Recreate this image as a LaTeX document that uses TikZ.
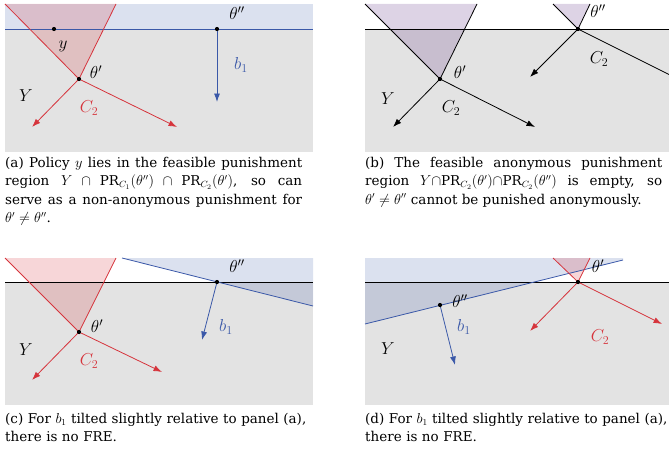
\documentclass[tikz,border=0pt]{standalone}
\usepackage{amsmath}
\usepackage{fontspec}
\setmainfont{DejaVu Serif}
\usetikzlibrary{arrows.meta}
\definecolor{panelgray}{RGB}{227,227,227}
\definecolor{redanno}{RGB}{214,52,60}
\definecolor{blueanno}{RGB}{58,88,168}
\definecolor{violetanno}{RGB}{120,80,150}
\tikzset{
  ray/.style={-{Latex[length=8.5pt,width=6pt]}, line width=0.8pt},
  edgeline/.style={line width=0.8pt},
  dot/.style={circle, fill=black, inner sep=0pt, minimum size=4.2pt},
  lbl/.style={font=\fontsize{18.5}{20}\selectfont},
  captext/.style={anchor=base west, inner sep=0pt, text width=297pt, align=justify,
    font=\fontsize{13.5}{18.5}\selectfont},
  captextleft/.style={captext, text width=320pt, align=left},
}

\begin{document}
\begin{tikzpicture}[x=1pt,y=-1pt]
\useasboundingbox (0,0) rectangle (669,452);
% panel (a)
\fill[panelgray] (5,29) rectangle (313,152);
\fill[blueanno, opacity=0.18] (5,4) rectangle (313,29);
\fill[redanno, opacity=0.2] (5,4) -- (79,79) -- (116,4) -- cycle;
\coordinate (a-y) at (54,29);
\coordinate (a-t1) at (79,79);
\coordinate (a-t2) at (217,29);
\coordinate (a-l) at (5,29);
\coordinate (a-r) at (313,29);
\coordinate (a-cl) at (5,4);
\coordinate (a-cr) at (116,4);
\coordinate (a-c2l) at (32,127);
\coordinate (a-c2r) at (177,127);
\coordinate (a-b1) at (217,102);
\draw[edgeline, blueanno] (a-l) -- (a-r);
\draw[edgeline, redanno] (a-cl) -- (a-t1) -- (a-cr);
\draw[ray, redanno] (a-t1) -- (a-c2l);
\draw[ray, redanno] (a-t1) -- (a-c2r);
\draw[ray, blueanno] (a-t2) -- (a-b1);
\node[dot] (a-ydot) at (a-y) {};
\node[dot] (a-t1dot) at (a-t1) {};
\node[dot] (a-t2dot) at (a-t2) {};
\node[lbl] (a-t2lab) at (237,13) {$\theta''$};
\node[lbl, text=blueanno] (a-b1lab) at (241,65) {$b_1$};
\node[lbl] (a-ylab) at (63,46) {$y$};
\node[lbl] (a-t1lab) at (96,72) {$\theta'$};
\node[lbl] (a-Ylab) at (26,96) {$Y$};
\node[lbl, text=redanno] (a-c2lab) at (89,108) {$C_2$};
% panel (b)
\begin{scope}
\clip (360,0) rectangle (669,160);
\fill[panelgray] (365,29) rectangle (669,152);
\fill[violetanno, opacity=0.25] (365,4) -- (440,79) -- (477,4) -- cycle;
\fill[violetanno, opacity=0.25] (553,4) -- (578,29) -- (590,4) -- cycle;
\coordinate (b-t1) at (440,79);
\coordinate (b-t2) at (578,29);
\coordinate (b-l) at (365,29);
\coordinate (b-r) at (669,29);
\coordinate (b-cl) at (365,4);
\coordinate (b-cr) at (477,4);
\coordinate (b-dl) at (553,4);
\coordinate (b-dr) at (590,4);
\coordinate (b-c2l) at (393,127);
\coordinate (b-c2r) at (535,127);
\coordinate (b-e2l) at (530,77);
\coordinate (b-e2r) at (690,85);
\draw[edgeline] (b-l) -- (b-r);
\draw[edgeline] (b-cl) -- (b-t1) -- (b-cr);
\draw[edgeline] (b-dl) -- (b-t2) -- (b-dr);
\draw[ray] (b-t1) -- (b-c2l);
\draw[ray] (b-t1) -- (b-c2r);
\draw[ray] (b-t2) -- (b-e2l);
\draw[ray] (b-t2) -- (b-e2r);
\node[dot] (b-t1dot) at (b-t1) {};
\node[dot] (b-t2dot) at (b-t2) {};
\end{scope}
\node[lbl] (b-t2lab) at (598,11) {$\theta''$};
\node[lbl] (b-t1lab) at (460,72) {$\theta'$};
\node[lbl] (b-Ylab) at (388,99) {$Y$};
\node[lbl] (b-c2lab) at (451,108) {$C_2$};
\node[lbl] (b-e2lab) at (599,59) {$C_2$};
% panel (c)
\fill[panelgray] (5,282) rectangle (313,405);
\fill[blueanno, opacity=0.18] (122,258) -- (313,306) -- (313,258) -- cycle;
\fill[redanno, opacity=0.2] (5,258) -- (79,332) -- (116,258) -- cycle;
\coordinate (c-t1) at (79,332);
\coordinate (c-t2) at (217,282);
\coordinate (c-l) at (5,282);
\coordinate (c-r) at (313,282);
\coordinate (c-hl) at (122,258);
\coordinate (c-hr) at (313,306);
\coordinate (c-cl) at (5,258);
\coordinate (c-cr) at (116,258);
\coordinate (c-c2l) at (32,380);
\coordinate (c-c2r) at (162,372);
\coordinate (c-b1) at (202,340);
\draw[edgeline] (c-l) -- (c-r);
\draw[edgeline, blueanno] (c-hl) -- (c-hr);
\draw[edgeline, redanno] (c-cl) -- (c-t1) -- (c-cr);
\draw[ray, redanno] (c-t1) -- (c-c2l);
\draw[ray, redanno] (c-t1) -- (c-c2r);
\draw[ray, blueanno] (c-t2) -- (c-b1);
\node[dot] (c-t1dot) at (c-t1) {};
\node[dot] (c-t2dot) at (c-t2) {};
\node[lbl] (c-t2lab) at (237,266) {$\theta''$};
\node[lbl, text=blueanno] (c-b1lab) at (226,327) {$b_1$};
\node[lbl] (c-t1lab) at (97,326) {$\theta'$};
\node[lbl] (c-Ylab) at (26,350) {$Y$};
\node[lbl, text=redanno] (c-c2lab) at (89,361) {$C_2$};
% panel (d)
\fill[panelgray] (365,282) rectangle (669,405);
\fill[blueanno, opacity=0.18] (365,258) -- (365,324) -- (623,260) -- (623,258) -- cycle;
\fill[redanno, opacity=0.2] (553,258) -- (578,282) -- (590,258) -- cycle;
\coordinate (d-t1) at (578,282);
\coordinate (d-t2) at (440,305);
\coordinate (d-l) at (365,282);
\coordinate (d-r) at (669,282);
\coordinate (d-hl) at (365,324);
\coordinate (d-hr) at (623,260);
\coordinate (d-cl) at (553,258);
\coordinate (d-cr) at (590,258);
\coordinate (d-c2l) at (530,331);
\coordinate (d-c2r) at (662,324);
\coordinate (d-b1) at (455,365);
\draw[edgeline] (d-l) -- (d-r);
\draw[edgeline, blueanno] (d-hl) -- (d-hr);
\draw[edgeline, redanno] (d-cl) -- (d-t1) -- (d-cr);
\draw[ray, redanno] (d-t1) -- (d-c2l);
\draw[ray, redanno] (d-t1) -- (d-c2r);
\draw[ray, blueanno] (d-t2) -- (d-b1);
\node[dot] (d-t1dot) at (d-t1) {};
\node[dot] (d-t2dot) at (d-t2) {};
\node[lbl] (d-t2lab) at (460,301) {$\theta''$};
\node[lbl] (d-t1lab) at (598,266) {$\theta'$};
\node[lbl, text=blueanno] (d-b1lab) at (464,327) {$b_1$};
\node[lbl] (d-Ylab) at (388,349) {$Y$};
\node[lbl, text=redanno] (d-c2lab) at (600,337) {$C_2$};
% captions
\node[captext] (a-cap) at (5,167) {(a) Policy $y$ lies in the feasible punishment\linebreak
  region $Y\cap\mathrm{PR}_{C_1}(\theta'')\cap\mathrm{PR}_{C_2}(\theta')$, so can\linebreak
  serve as a non-anonymous punishment for\linebreak $\theta'\neq\theta''$.};
\node[captext] (b-cap) at (365,167) {(b) The feasible anonymous punishment\linebreak
  region $Y{\cap}\mathrm{PR}_{C_2}(\theta'){\cap}\mathrm{PR}_{C_2}(\theta'')$ is empty, so\linebreak
  $\theta'\neq\theta''$ cannot be punished anonymously.};
\node[captextleft] (c-cap) at (5,423) {(c) For $b_1$ tilted slightly relative to panel (a),\\
  there is no FRE.};
\node[captextleft] (d-cap) at (365,423) {(d) For $b_1$ tilted slightly relative to panel (a),\\
  there is no FRE.};
\end{tikzpicture}
\end{document}
